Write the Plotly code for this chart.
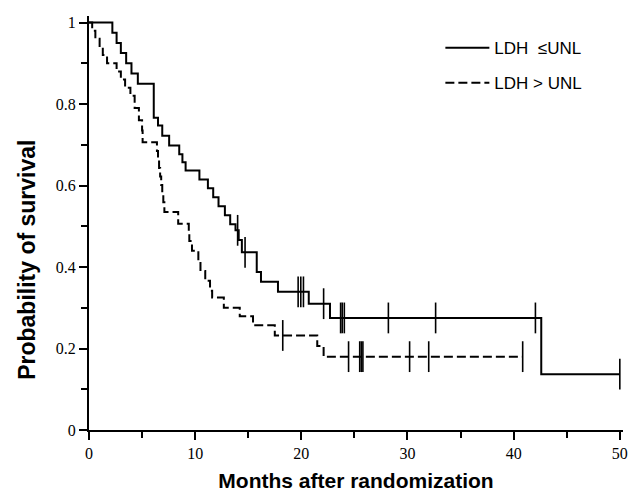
import plotly.graph_objects as go

# ---- data ----
solid_name = "LDH\u00a0\u00a0\u2264UNL"
solid_event_months = [2.2, 2.6, 3.0, 3.5, 4.0, 4.6, 6.1, 6.5, 6.9, 7.55, 8.5, 8.8, 9.1,
                      10.4, 11.2, 11.7, 12.2, 12.8, 13.3, 13.8, 14.1, 14.4, 15.8, 16.2,
                      17.8, 20.7, 22.7, 42.6]
solid_survival = [0.975, 0.95, 0.925, 0.90, 0.875, 0.85, 0.766, 0.747, 0.722, 0.698, 0.677,
                  0.657, 0.637, 0.615, 0.593, 0.571, 0.549, 0.527, 0.505, 0.49, 0.466, 0.436,
                  0.388, 0.364, 0.339, 0.31, 0.275, 0.137]
solid_censor_months = [14.0, 14.7, 19.7, 19.95, 20.2, 22.1, 23.7, 23.85, 24.05, 28.2, 32.65,
                       42.05, 50.0]

dashed_name = "LDH > UNL"
dashed_event_months = [0.3, 0.6, 1.0, 1.3, 1.7, 2.6, 3.0, 3.4, 3.9, 4.3, 4.7, 5.0, 5.05,
                       6.4, 6.5, 6.6, 6.7, 6.8, 6.9, 7.0, 7.1, 8.4, 9.4, 9.45, 9.7, 10.3,
                       10.5, 10.95, 11.4, 11.6, 12.7, 14.2, 15.45, 17.5, 21.5, 22.1]
dashed_survival = [0.98, 0.96, 0.94, 0.92, 0.90, 0.88, 0.86, 0.84, 0.82, 0.79, 0.76, 0.735,
                   0.706, 0.685, 0.664, 0.643, 0.622, 0.601, 0.58, 0.559, 0.535, 0.506,
                   0.485, 0.464, 0.44, 0.415, 0.39, 0.366, 0.342, 0.325, 0.30, 0.279,
                   0.257, 0.232, 0.206, 0.18]
dashed_censor_months = [18.25, 24.45, 25.5, 25.65, 25.8, 30.2, 32.0, 40.85]

x_tick_vals = [0, 10, 20, 30, 40, 50]
x_tick_text = ["0", "10", "20", "30", "40", "50"]
y_tick_vals = [0, 0.2, 0.4, 0.6, 0.8, 1.0]
y_tick_text = ["0", "0.2", "0.4", "0.6", "0.8", "1"]


def km_path(times, surv, end_time):
    xs = [0.0] + list(times)
    ys = [1.0] + list(surv)
    if end_time > xs[-1]:
        xs.append(end_time)
        ys.append(ys[-1])
    return xs, ys


def surv_at(times, surv, t):
    s = 1.0
    for ti, si in zip(times, surv):
        if ti <= t:
            s = si
    return s


fig = go.Figure()

series = [
    (solid_name, solid_event_months, solid_survival, solid_censor_months, "solid"),
    (dashed_name, dashed_event_months, dashed_survival, dashed_censor_months, "9px,4px"),
]
for i, (name, t, s, cens, dash) in enumerate(series):
    xs, ys = km_path(t, s, max(cens))
    fig.add_trace(go.Scatter(
        x=xs, y=ys, mode="lines", name=name, line_shape="hv",
        line=dict(color="black", width=2, dash=dash),
        legendgroup=f"g{i}", showlegend=True,
    ))
    fig.add_trace(go.Scatter(
        x=cens, y=[surv_at(t, s, c) for c in cens], mode="markers",
        marker=dict(symbol="line-ns", size=22, color="black",
                    line=dict(color="black", width=1.6)),
        legendgroup=f"g{i}", showlegend=False, hoverinfo="skip",
    ))

fig.update_layout(
    width=636, height=497,
    margin=dict(l=89, r=8, t=16, b=65),
    plot_bgcolor="white", paper_bgcolor="white",
    showlegend=True,
    legend=dict(
        x=0.658, y=0.966, xanchor="left", yanchor="top",
        font=dict(family="Liberation Sans, Arial, sans-serif", size=17, color="black"),
        itemwidth=44, tracegroupgap=10, traceorder="grouped",
        bgcolor="rgba(0,0,0,0)",
    ),
    annotations=[dict(
        text="<b>Probability of survival</b>", textangle=-90,
        xref="paper", yref="paper", x=-0.115, y=0.41,
        xanchor="center", yanchor="middle", showarrow=False,
        font=dict(family="Liberation Sans, Arial, sans-serif", size=23, color="black"),
    )],
)
fig.update_xaxes(
    range=[0, 50.3], showgrid=False, zeroline=False,
    showline=True, linecolor="black", linewidth=2,
    ticks="outside", ticklen=8, tickwidth=1.5, tickcolor="black",
    tickvals=x_tick_vals, ticktext=x_tick_text,
    minor=dict(dtick=5, ticks="outside", ticklen=6, tickwidth=1.5, tickcolor="black"),
    tickfont=dict(family="Liberation Serif, Times New Roman, serif", size=16, color="black"),
    title=dict(text="<b>Months after randomization</b>", standoff=12,
               font=dict(family="Liberation Sans, Arial, sans-serif", size=21, color="black")),
)
fig.update_yaxes(
    range=[0, 1.016], showgrid=False, zeroline=False,
    showline=True, linecolor="black", linewidth=2,
    ticks="outside", ticklen=8, tickwidth=1.5, tickcolor="black",
    tickvals=y_tick_vals, ticktext=y_tick_text,
    minor=dict(dtick=0.1, ticks="outside", ticklen=6, tickwidth=1.5, tickcolor="black"),
    tickfont=dict(family="Liberation Serif, Times New Roman, serif", size=16, color="black"),
)

fig.write_html(
    "out.html",
    config={"displayModeBar": False},
    post_script="document.body.style.margin='0px';document.body.style.overflow='hidden';",
)
